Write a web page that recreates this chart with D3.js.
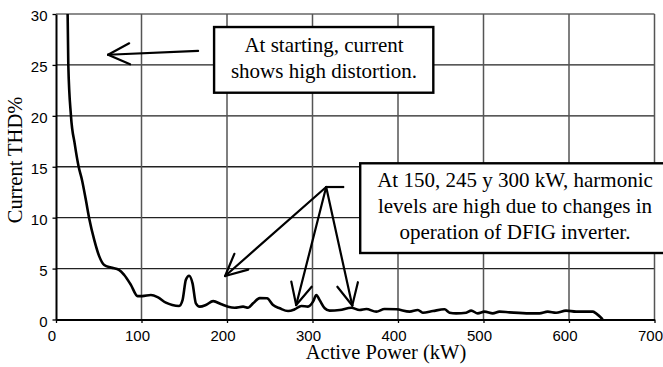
<!DOCTYPE html>
<html><head><meta charset="utf-8">
<script src="https://cdn.jsdelivr.net/npm/d3@7"></script>
<style>
body{margin:0;background:#fff}svg{display:block}
.serif{font-family:"Liberation Serif","Times New Roman",Times,serif}
.sans{font-family:"Liberation Sans",Arial,Helvetica,sans-serif}
</style>
</head><body>
<svg id="chart" width="663" height="367"></svg>
<script>
const power = [13.6,14.4,17.5,22,26.5,30.4,35,38.9,44.8,50.6,56.4,64.3,74,79.8,87.6,95.4,101,111,118.8,128.5,136,144,148,151.9,155.7,159.7,163.6,168.2,175.2,183.8,193.5,201.3,209,218.8,224.7,230.5,238.3,246.8,253.9,261.7,271.4,279.2,287,294.7,300.6,304.5,308.4,314.3,320,331.8,345.4,355,362.9,374.6,384.3,398,413.6,423.2,429,440.8,454.4,460.3,468,479.8,485.6,493.3,501.2,510.9,518.7,530.4,553.7,565.4,575.1,584.9,596.6,608.3,627.7,631.6,639.4];
const thd = [30,25,20,17.2,15,13.7,11.7,9.9,7.8,6.2,5.35,5.1,4.86,4.37,3.4,2.3,2.3,2.4,2.2,1.65,1.42,1.33,1.9,3.9,4.3,3.55,1.59,1.26,1.42,1.8,1.49,1.26,1.16,1.26,1.16,1.59,2.1,2.08,1.42,1.1,0.83,1.0,1.33,1.26,1.75,2.4,1.9,1.1,0.87,0.93,1.16,0.93,1.03,0.77,1.03,1.0,0.77,0.93,0.67,0.83,1.0,0.67,0.6,0.67,0.87,0.6,0.77,0.6,0.77,0.7,0.6,0.6,0.77,0.67,0.87,0.77,0.77,0.6,0.0];
const xTicks = [0,100,200,300,400,500,600,700];
const yTicks = [0,5,10,15,20,25,30];
const xTitle = "Active Power (kW)";
const yTitle = "Current THD%";
const note1 = ["At starting, current","shows high distortion."];
const note2 = ["At 150, 245 y 300 kW, harmonic","levels are high due to changes in","operation of DFIG inverter."];
// annotation anchors in data units
const note1Box = {x0:184.9, x1:441.3, y0:28.72, y1:22.27};
const note2Box = {x0:355.8, x1:720, y0:15.34, y1:6.53};
const arrow1 = {from:[166.2,26.37], to:[60.9,26.0]};
const hub = {from:[337.1,13.01], to:[316.0,13.01]};
const arrowTips = [[197.8,4.27],[280.9,1.42],[346.5,1.37]];

const svg = d3.select("#chart");
const L=56, R=654.5, T=14, B=319.5;
const x = d3.scaleLinear().domain([0,700]).range([L,R]);
const y = d3.scaleLinear().domain([0,30]).range([B,T]);

// grid
svg.append("g").selectAll("line").data(yTicks.filter(d=>d>0)).join("line")
  .attr("x1",L).attr("x2",R).attr("y1",d=>y(d)).attr("y2",d=>y(d))
  .attr("stroke",d=>d===30?"#666":"#222").attr("stroke-width",1.3);
svg.append("g").selectAll("line").data(xTicks.filter(d=>d>0)).join("line")
  .attr("y1",T).attr("y2",B).attr("x1",d=>x(d)).attr("x2",d=>x(d))
  .attr("stroke","#555").attr("stroke-width",1.5);

// axes
const xa = svg.append("g").attr("transform",`translate(0,${B})`)
  .call(d3.axisBottom(x).tickValues(xTicks).tickSize(3.5).tickSizeOuter(0).tickPadding(8));
const ya = svg.append("g").attr("transform",`translate(${L},0)`)
  .call(d3.axisLeft(y).tickValues(yTicks).tickSize(3.5).tickSizeOuter(0).tickPadding(5));
[xa,ya].forEach(a=>{
  a.attr("font-family",null).attr("font-size",null);
  a.select(".domain").attr("stroke","#000").attr("stroke-width",2);
  a.selectAll(".tick line").attr("stroke","#000").attr("stroke-width",1.3);
  a.selectAll("text").attr("class","sans").attr("font-size",15).attr("fill","#000");
});
xa.selectAll("text").attr("dx",-4.5).attr("y",11).attr("dy","0.72em");
ya.selectAll("text").attr("dy","0.45em");

// curve
svg.append("clipPath").attr("id","pc").append("rect")
  .attr("x",L).attr("y",T).attr("width",R-L).attr("height",B-T+2);
const line = d3.line().x((d,i)=>x(power[i])).y(d=>y(d)).curve(d3.curveMonotoneX);
svg.append("path").datum(thd).attr("d",line).attr("fill","none")
  .attr("stroke","#000").attr("stroke-width",2.6).attr("stroke-linejoin","round")
  .attr("clip-path","url(#pc)");

// titles
svg.append("text").attr("class","serif").attr("x",386).attr("y",359).attr("text-anchor","middle")
  .attr("font-size",20.5).text(xTitle);
svg.append("text").attr("class","serif").attr("transform","translate(22,160) rotate(-90)").attr("text-anchor","middle")
  .attr("font-size",20.5).text(yTitle);

// arrows
function arrow(p0,p1){
  const [ax,ay]=[x(p0[0]),y(p0[1])],[bx,by]=[x(p1[0]),y(p1[1])];
  const ang=Math.atan2(ay-by,ax-bx), len=24, sp=26*Math.PI/180;
  svg.append("line").attr("x1",ax).attr("y1",ay).attr("x2",bx).attr("y2",by)
    .attr("stroke","#000").attr("stroke-width",2.2).attr("stroke-linecap","round");
  [ang-sp,ang+sp].forEach(a=>svg.append("line").attr("x1",bx).attr("y1",by)
    .attr("x2",bx+len*Math.cos(a)).attr("y2",by+len*Math.sin(a))
    .attr("stroke","#000").attr("stroke-width",2.2).attr("stroke-linecap","round"));
}
arrow(arrow1.from,arrow1.to);
svg.append("line").attr("x1",x(hub.from[0])).attr("y1",y(hub.from[1])).attr("x2",x(hub.to[0])).attr("y2",y(hub.to[1]))
  .attr("stroke","#000").attr("stroke-width",2.2);
arrowTips.forEach(t=>arrow(hub.to,t));

// boxes
function box(b,lines,base,cx){
  const x0=x(b.x0),x1=x(b.x1),y0=y(b.y0),y1=y(b.y1);
  svg.append("rect").attr("x",x0).attr("y",y0).attr("width",x1-x0).attr("height",y1-y0)
    .attr("fill","#fff").attr("stroke","#000").attr("stroke-width",2.4);
  const t=svg.append("text").attr("class","serif")
    .attr("font-size",21).attr("text-anchor","middle");
  lines.forEach((s,i)=>t.append("tspan").attr("x",cx).attr("y",y0+base+i*26).text(s));
}
box(note1Box,note1,25,324);
box(note2Box,note2,23.7,515);
</script>
</body></html>
